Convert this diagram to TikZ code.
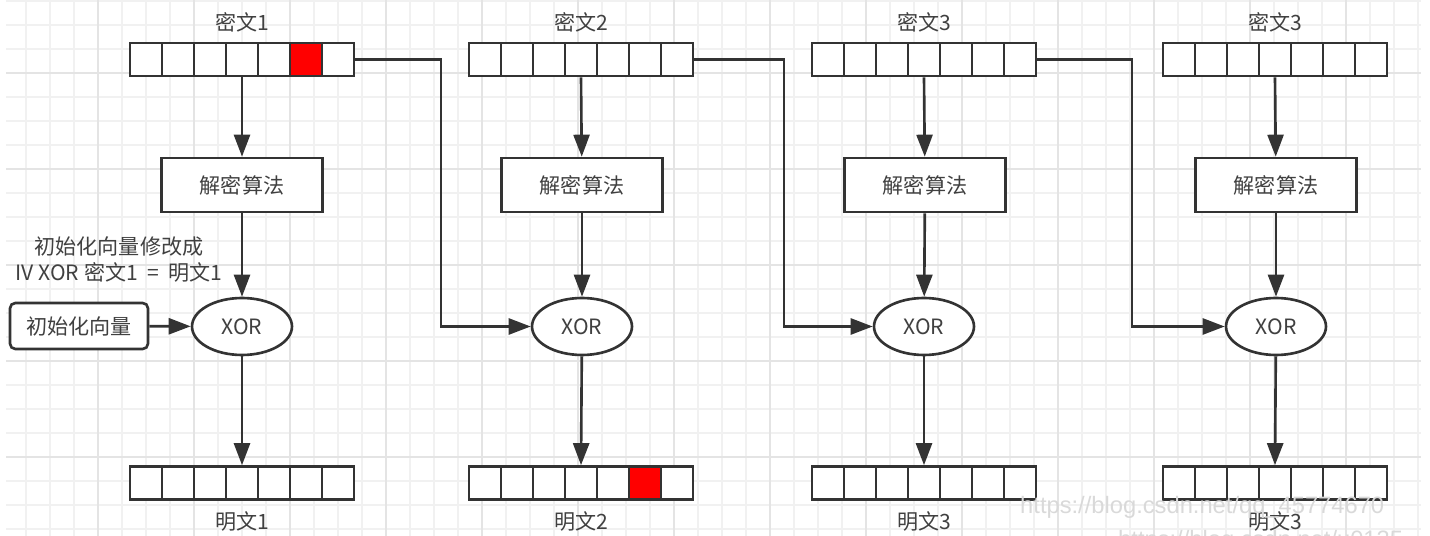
\documentclass[tikz,border=0pt]{standalone}
\usepackage{fontspec}
\setmainfont{Noto Sans CJK SC}
\newfontfamily\wmfont{Liberation Sans}
\usetikzlibrary{arrows.meta,shapes.geometric}

\definecolor{ink}{HTML}{333333}
\definecolor{txt}{HTML}{404040}
\definecolor{gridminor}{HTML}{F1F1F1}
\definecolor{gridmajor}{HTML}{E4E4E4}

\tikzset{
  cell/.style={draw=ink, line width=1.5pt, inner sep=0pt,
    minimum width=0.64cm, minimum height=0.66cm},
  decbox/.style={draw=ink, fill=white, line width=1.5pt, text=txt,
    minimum width=3.22cm, minimum height=1.08cm},
  xorbox/.style={ellipse, draw=ink, fill=white, line width=1.5pt, text=txt,
    inner sep=0pt, minimum width=2cm, minimum height=1.14cm},
  ivbox/.style={draw=ink, fill=white, line width=1.5pt, text=txt,
    rounded corners=3pt, minimum width=2.76cm, minimum height=0.92cm},
  lbl/.style={text=txt},
  arr/.style={draw=ink, line width=1.5pt,
    -{Triangle[length=0.44cm,width=0.32cm]}},
  gridline/.style={gridminor, line width=0.6pt},
  gridbold/.style={gridmajor, line width=0.6pt},
  wmark/.style={anchor=west, text=gray!30, font=\fontsize{13.5}{16}\selectfont\wmfont},
}

% a row of 7 cells named #1-1 ... #1-7, left edge #2, middle #3, cell #4 red
\newcommand{\cellrow}[4]{%
  \foreach \i in {1,...,7}{%
    \ifnum\i=#4 \def\cellfill{red}\else\def\cellfill{white}\fi
    \node[cell, fill=\cellfill] (#1-\i) at ({#2+32*\i-16},#3) {};
  }%
}

\begin{document}
\begin{tikzpicture}[x=0.02cm, y=-0.02cm, font=\fontsize{12}{14.8}\selectfont]
  \useasboundingbox (0,0) rectangle (1430,536);

  % background grid
  \foreach \gx in {26,50,...,1418}
    \draw[gridline] (\gx,0) -- (\gx,536);
  \foreach \gy in {1,25,...,529}
    \draw[gridline] (6,\gy) -- (1421,\gy);
  \foreach \gx in {98,194,...,1346}
    \draw[gridbold] (\gx,0) -- (\gx,536);
  \foreach \gy in {73,169,...,457}
    \draw[gridbold] (6,\gy) -- (1421,\gy);

  % ciphertext rows
  \cellrow{c1}{130}{59.5}{6}
  \cellrow{c2}{469}{59.5}{0}
  \cellrow{c3}{812}{59.5}{0}
  \cellrow{c4}{1163}{59.5}{0}

  % plaintext rows
  \cellrow{p1}{130}{483}{0}
  \cellrow{p2}{469}{483}{6}
  \cellrow{p3}{812}{483}{0}
  \cellrow{p4}{1163}{483}{0}

  \node[lbl] (ct1) at (242,22) {密文1};
  \node[lbl] (ct2) at (581,22) {密文2};
  \node[lbl] (ct3) at (924,22) {密文3};
  \node[lbl] (ct4) at (1275,22) {密文3};
  \node[lbl] (pt1) at (242,521) {明文1};
  \node[lbl] (pt2) at (581,521) {明文2};
  \node[lbl] (pt3) at (924,521) {明文3};
  \node[lbl] (pt4) at (1275,521) {明文3};

  \node[decbox] (dec1) at (242,185) {解密算法};
  \node[decbox] (dec2) at (582,185) {解密算法};
  \node[decbox] (dec3) at (925,185) {解密算法};
  \node[decbox] (dec4) at (1276,185) {解密算法};

  \node[xorbox] (xor1) at (242,326.5) {XOR};
  \node[xorbox] (xor2) at (582,326.5) {XOR};
  \node[xorbox] (xor3) at (924,326.5) {XOR};
  \node[xorbox] (xor4) at (1276,326.5) {XOR};

  \node[ivbox] (iv) at (79,326) {初始化向量};
  \node[lbl, align=center] (note) at (119,260)
    {初始化向量修改成\\IV XOR 密文1 \ = \ 明文1};

  % vertical flow
  \foreach \k in {1,...,4}{
    \draw[arr] (c\k-4.south) -- (dec\k);
    \draw[arr] (dec\k) -- (xor\k);
    \draw[arr] (xor\k) -- (p\k-4.north);
  }
  \draw[arr] (iv) -- (xor1);

  % chaining into the next stage
  \draw[arr] (c1-7.east) -- (441,59.5) |- (xor2.west);
  \draw[arr] (c2-7.east) -- (784,59.5) |- (xor3.west);
  \draw[arr] (c3-7.east) -- (1132,59.5) |- (xor4.west);

  % blog watermark
  \begin{scope}
    \clip (0,0) rectangle (1430,536);
    \node[wmark] (wm1) at (1014,507) {https://blog.csdn.net/qq\_45774670};
    \node[wmark] (wm2) at (1112,541) {https://blog.csdn.net/u0135};
  \end{scope}
\end{tikzpicture}
\end{document}
